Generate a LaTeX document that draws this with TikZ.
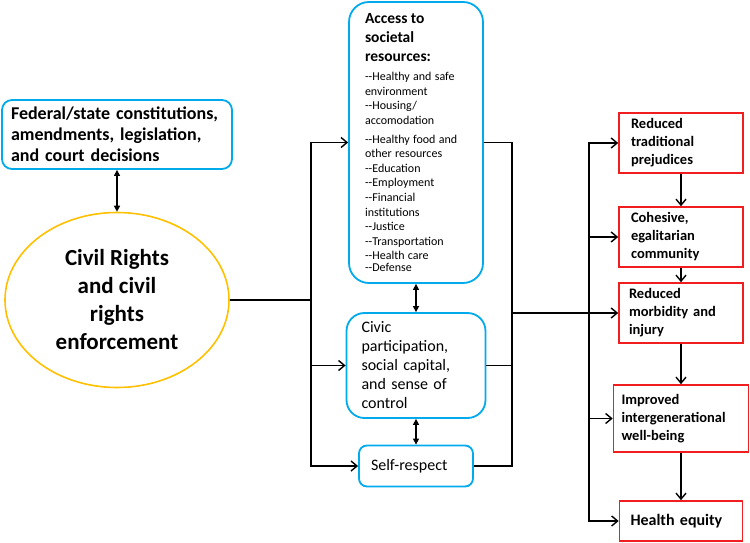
\documentclass[tikz,border=0pt]{standalone}
\usepackage{fontspec}
\setmainfont{Carlito}
\usetikzlibrary{shapes.geometric,arrows.meta}
\definecolor{boxblue}{RGB}{0,170,235}
\definecolor{boxred}{RGB}{240,30,30}
\definecolor{ringgold}{RGB}{255,192,0}
\newcommand{\fedsize}{\fontsize{18}{21}\selectfont\bfseries}
\newcommand{\civsize}{\fontsize{23}{28}\selectfont\bfseries}
\newcommand{\headsize}{\fontsize{15.5}{19}\selectfont\bfseries}
\newcommand{\listsize}{\fontsize{12}{14.6}\selectfont}
\newcommand{\midsize}{\fontsize{16}{19}\selectfont}
\newcommand{\outsize}{\fontsize{14.5}{18}\selectfont\bfseries}
\newcommand{\twodash}{\mbox{-}\mbox{-}}

\begin{document}
\begin{tikzpicture}[x=1pt,y=-1pt,line width=1.4pt,
  >={Straight Barb[length=6pt,width=10pt]},
  dbl/.style={{Triangle[length=6pt,width=6pt]}-{Triangle[length=6pt,width=6pt]}},
  bluebox/.style={draw=boxblue,line width=1.8pt,align=left},
  redbox/.style={draw=boxred,line width=1.6pt,align=left,inner xsep=12pt,inner ysep=1pt,minimum height=60pt,font=\outsize}]

\useasboundingbox (0,0) rectangle (750,543);

% FEDERAL
\node[bluebox,rounded corners=10pt,inner xsep=9pt,text width=212pt,minimum height=69pt,font=\fedsize] (fed) at (117,134.5)
  {Federal/state constitutions,\\ amendments, legislation,\\ and court decisions};

% CIVIL RIGHTS
\node[ellipse,draw=ringgold,line width=1.6pt,minimum width=224pt,minimum height=175pt,align=center,font=\civsize] (civil) at (117,300)
  {Civil Rights\\ and civil\\ rights\\ enforcement};
\draw[dbl] (fed) -- (civil);

% ACCESS
\node[bluebox,rounded corners=20pt,inner xsep=16pt,text width=102pt,minimum height=281pt] (access) at (416,142.5)
  {{\headsize Access to\\ societal\\ resources:\par}\vspace{5pt}
   \listsize\twodash Healthy and safe\\ environment\\ \twodash Housing/\\ accomodation\\[4pt]
   \twodash Healthy food and\\ other resources\\ \twodash Education\\ \twodash Employment\\
   \twodash Financial\\ institutions\\ \twodash Justice\\ \twodash Transportation\\
   \twodash Health care\\ \twodash Defense};

% CIVIC
\node[bluebox,rounded corners=18pt,inner xsep=15pt,text width=109pt,minimum height=105pt,font=\midsize] (civic) at (416,365.5)
  {Civic\\ participation,\\ social capital,\\ and sense of\\ control};

% SELF-RESPECT
\node[bluebox,rounded corners=8pt,inner xsep=12pt,text width=90pt,minimum height=41pt,font=\midsize] (selfr) at (416,466)
  {Self-respect};
\draw[dbl] (access) -- (civic);
\draw[dbl] (civic) -- (selfr);

% OUTCOMES
\node[redbox,text width=100pt] (trad) at (681,143) {Reduced\\ traditional\\ prejudices};
\node[redbox,text width=100pt] (cohes) at (681,237) {Cohesive,\\ egalitarian\\ community};
\node[redbox,text width=104pt,inner xsep=10pt] (morb) at (681,313) {Reduced\\ morbidity and\\ injury};
\node[redbox,text width=119pt,inner xsep=8pt,minimum height=67pt] (improv) at (681,418.5) {Improved\\ intergenerational\\ well-being};
\node[redbox,text width=101pt,inner xsep=11pt,minimum height=40pt,font=\fontsize{16}{19}\selectfont\bfseries] (equity) at (681,521) {Health equity};
\draw[->] (trad) -- (cohes);
\draw[->] (cohes) -- (morb);
\draw[->] (morb) -- (improv);
\draw[->] (improv) -- (equity);

% LEFT BRANCH
\coordinate (split) at (311,300);
\draw (civil.east) -- (split);
\draw[->] (split) |- (access.west);
\draw[->] (split) |- (civic.west);
\draw[->] (split) |- (selfr.west);

% RIGHT BRANCH
\coordinate (join) at (512,313);
\coordinate (split2) at (589,313);
\draw (access.east) -| (join);
\draw (civic.east) -| (join);
\draw (selfr.east) -| (join);
\draw[->] (join) -- (morb.west);
\draw[->] (split2) |- (trad.west);
\draw[->] (split2) |- (cohes.west);
\draw[->] (split2) |- (improv.west);
\draw[->] (split2) |- (equity.west);
\end{tikzpicture}
\end{document}
